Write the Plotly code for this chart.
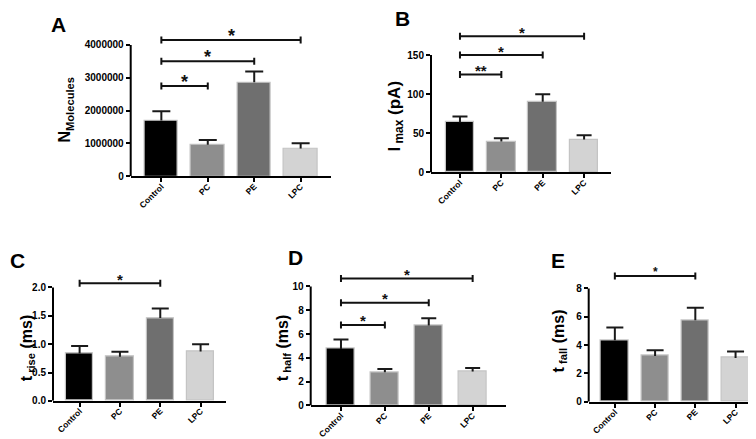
import plotly.graph_objects as go

# ---------------- data ----------------
categories = ["Control", "PC", "PE", "LPC"]

n_molecules = [1.70e6, 0.96e6, 2.86e6, 0.85e6]
n_molecules_sem = [0.28e6, 0.15e6, 0.33e6, 0.16e6]

i_max = [63.9, 39.5, 90.3, 42.0]
i_max_sem = [7.5, 4.2, 9.7, 5.5]

t_rise = [0.835, 0.776, 1.46, 0.87]
t_rise_sem = [0.13, 0.09, 0.17, 0.13]

t_half = [4.75, 2.80, 6.72, 2.86]
t_half_sem = [0.79, 0.27, 0.61, 0.29]

t_fall = [4.35, 3.24, 5.75, 3.10]
t_fall_sem = [0.89, 0.40, 0.88, 0.45]

# significance brackets: (from index, to index, height, label)
sig_a = [(0, 1, 2.75e6, "*"), (0, 2, 3.50e6, "*"), (0, 3, 4.15e6, "*")]
sig_b = [(0, 1, 125, "**"), (0, 2, 150, "*"), (0, 3, 174, "*")]
sig_c = [(0, 2, 2.075, "*")]
sig_d = [(0, 1, 6.77, "*"), (0, 2, 8.64, "*"), (0, 3, 10.67, "*")]
sig_e = [(0, 2, 8.88, "*")]

ticks_a = [0, 1000000, 2000000, 3000000, 4000000]
ticks_b = [0, 50, 100, 150]
ticks_c = [0.0, 0.5, 1.0, 1.5, 2.0]
ticks_d = [0, 2, 4, 6, 8, 10]
ticks_e = [0, 2, 4, 6, 8]

bar_colors = ["#000000", "#8e8e8e", "#6f6f6f", "#d3d3d3"]

# ---------------- layout helpers ----------------
W, H = 756, 439
FONT = "Liberation Sans, Arial, sans-serif"


def px2x(px):
    return px / W


def py2y(py):
    return 1 - py / H


panels = [
    dict(letter="A", vals=n_molecules, sem=n_molecules_sem, sig=sig_a, ticks=ticks_a, tickfmt="d",
         title="N<sub>Molecules</sub>", title_xy=(58, 103),
         xl=122.7, xr=323.3, xrange=(-0.66, 3.66), y0=170.7, yt=37.4, ydt=12,
         bw=0.72, cap=9, letter_xy=(50, 17), star=18, title_size=16),
    dict(letter="B", vals=i_max, sem=i_max_sem, sig=sig_b, ticks=ticks_b, tickfmt="d",
         title="I<sub> max</sub> (pA)", title_xy=(388, 110),
         xl=423, xr=603, xrange=(-0.70, 3.65), y0=166.7, yt=47.7, ydt=5,
         bw=0.69, cap=7.5, letter_xy=(394, 11), star=15, title_size=17),
    dict(letter="C", vals=t_rise, sem=t_rise_sem, sig=sig_c, ticks=ticks_c, tickfmt=".1f",
         title="t<sub> rise</sub> (ms)", title_xy=(19, 345),
         xl=45, xr=218, xrange=(-0.66, 3.63), y0=398.3, yt=283.3, ydt=258,
         bw=0.68, cap=8.5, letter_xy=(9, 255.5), star=15, title_size=16),
    dict(letter="D", vals=t_half, sem=t_half_sem, sig=sig_d, ticks=ticks_d, tickfmt="d",
         title="t<sub> half</sub> (ms)", title_xy=(275, 345),
         xl=302.7, xr=498, xrange=(-0.69, 3.76), y0=403, yt=282.3, ydt=256,
         bw=0.64, cap=7.5, letter_xy=(287.5, 252.5), star=15, title_size=16),
    dict(letter="E", vals=t_fall, sem=t_fall_sem, sig=sig_e, ticks=ticks_e, tickfmt="d",
         title="t<sub> fall</sub> (ms)", title_xy=(551, 338),
         xl=580.7, xr=751.7, xrange=(-0.65, 3.60), y0=399.3, yt=284.3, ydt=256,
         bw=0.68, cap=8.5, letter_xy=(550, 255.5), star=12, title_size=16),
]

fig = go.Figure()
shapes = []
annotations = []
xpos = list(range(len(categories)))

for k, p in enumerate(panels):
    sfx = "" if k == 0 else str(k + 1)
    xa, ya = "x" + sfx, "y" + sfx
    top_tick = p["ticks"][-1]
    units_per_px = top_tick / (p["y0"] - p["yt"])
    yrange_top = (p["y0"] - p["ydt"]) * units_per_px
    xspan_px = p["xr"] - p["xl"]
    x_units_per_px = (p["xrange"][1] - p["xrange"][0]) / xspan_px

    # bars
    fig.add_trace(go.Bar(
        x=xpos, y=p["vals"], width=p["bw"], xaxis=xa, yaxis=ya,
        marker=dict(color=bar_colors, line=dict(color="#c4c4c4", width=1.2)),
        showlegend=False, hoverinfo="skip"))

    # error bars (upper only, no lower cap)
    ex, ey = [], []
    c = p["cap"] * x_units_per_px
    for i, (v, e) in enumerate(zip(p["vals"], p["sem"])):
        ex += [i, i, None, i - c, i + c, None]
        ey += [v, v + e, None, v + e, v + e, None]
    fig.add_trace(go.Scatter(x=ex, y=ey, mode="lines", xaxis=xa, yaxis=ya,
                             line=dict(color="#1a1a1a", width=2),
                             showlegend=False, hoverinfo="skip"))

    # significance brackets
    for (i0, i1, yv, lab) in p["sig"]:
        shapes.append(dict(type="line", xref=xa, yref=ya, x0=i0, x1=i1, y0=yv, y1=yv,
                           line=dict(color="#111111", width=2)))
        for xi in (i0, i1):
            shapes.append(dict(type="line", xref=xa, yref=ya, x0=xi, x1=xi,
                               ysizemode="pixel", yanchor=yv, y0=-3.5, y1=3.5,
                               line=dict(color="#111111", width=2)))
        annotations.append(dict(xref=xa, yref=ya, x=(i0 + i1) / 2, y=yv, text=lab,
                                showarrow=False, yanchor="middle", yshift=4,
                                font=dict(family=FONT, size=p["star"], color="#111111",
                                          weight="bold")))

    # y axis line only up to the top tick
    shapes.append(dict(type="line", xref=xa + " domain", yref=ya, x0=0, x1=0,
                       y0=0, y1=top_tick, line=dict(color="#000000", width=2)))

    # panel letter
    lx, ly = p["letter_xy"]
    annotations.append(dict(xref="paper", yref="paper", x=px2x(lx), y=py2y(ly),
                            text=p["letter"], showarrow=False,
                            xanchor="center", yanchor="middle",
                            font=dict(family=FONT, size=21, color="#000000", weight="bold")))
    # y title
    tx, ty = p["title_xy"]
    annotations.append(dict(xref="paper", yref="paper", x=px2x(tx), y=py2y(ty),
                            text=p["title"], showarrow=False, textangle=-90,
                            xanchor="center", yanchor="middle",
                            font=dict(family=FONT, size=p["title_size"], color="#000000",
                                      weight="bold")))

    fig.layout["xaxis" + sfx] = dict(
        domain=[px2x(p["xl"]), px2x(p["xr"])], anchor=ya, range=list(p["xrange"]),
        tickvals=xpos, ticktext=categories, tickangle=-45, ticklabelstandoff=-4,
        showline=True, linecolor="#000000", linewidth=2,
        ticks="outside", ticklen=4, tickwidth=2, tickcolor="#000000",
        showgrid=False, zeroline=False, fixedrange=True,
        tickfont=dict(family=FONT, size=8.5, color="#000000", weight="bold"))
    fig.layout["yaxis" + sfx] = dict(
        domain=[py2y(p["y0"]), py2y(p["ydt"])], anchor=xa, range=[0, yrange_top],
        tickvals=p["ticks"], tickformat=p["tickfmt"],
        showline=False, ticks="outside", ticklen=4, tickwidth=2, tickcolor="#000000",
        showgrid=False, zeroline=False, fixedrange=True,
        tickfont=dict(family=FONT, size=10, color="#000000", weight="bold"))

fig.update_layout(
    width=W, height=H, margin=dict(l=0, r=0, t=0, b=0),
    paper_bgcolor="#ffffff", plot_bgcolor="rgba(0,0,0,0)",
    shapes=shapes, annotations=annotations, showlegend=False, bargap=0,
)

fig.write_html("out.html")
